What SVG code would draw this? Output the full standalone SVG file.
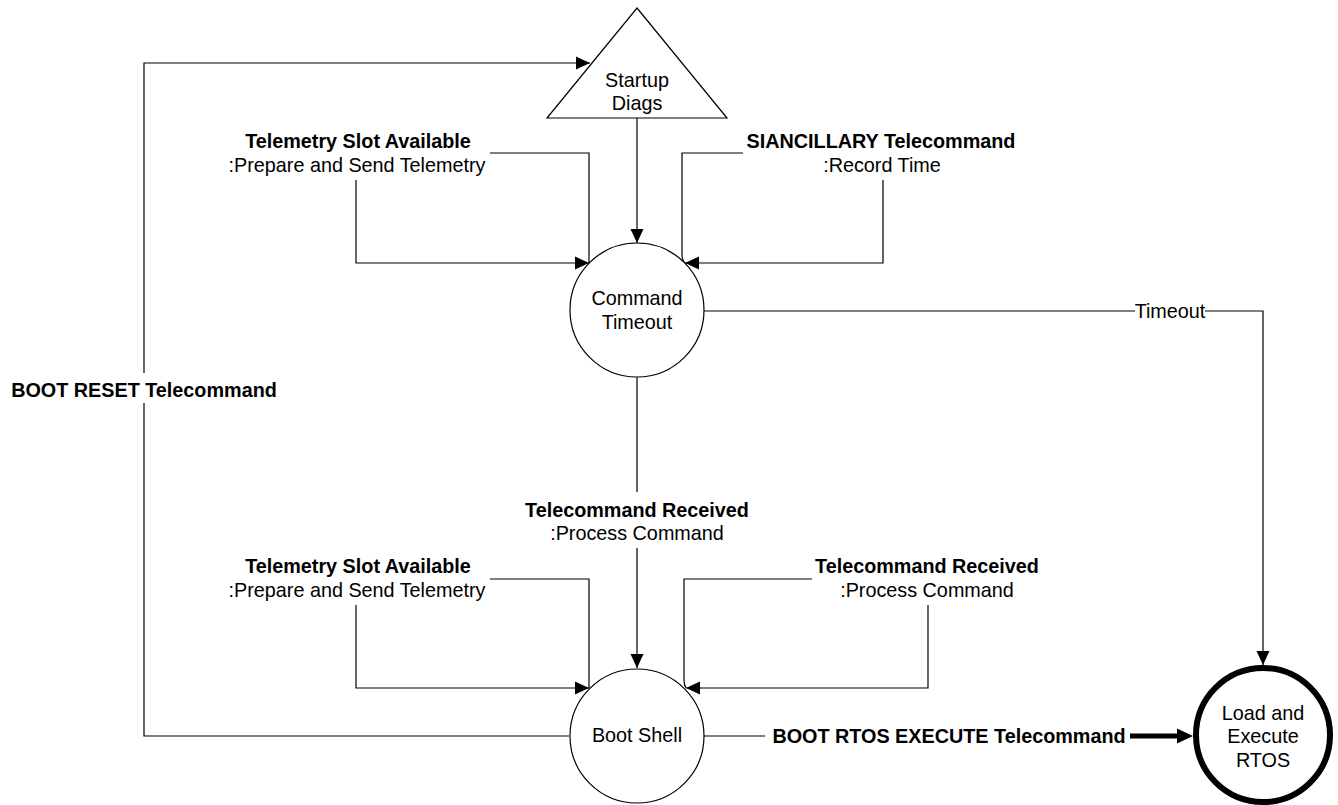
<svg xmlns="http://www.w3.org/2000/svg" width="1338" height="805" viewBox="0 0 1338 805">
<defs>
<marker id="arr" markerUnits="userSpaceOnUse" markerWidth="15" markerHeight="14" refX="14" refY="7" orient="auto">
<path d="M0,0.5 L14,7 L0,13.5 Z" fill="#000"/>
</marker>
<style>
.ln{fill:none;stroke:#000;stroke-width:1.2}
.nd{fill:#fff;stroke:#000;stroke-width:1.2}
text{font-family:"Liberation Sans",Arial,sans-serif;font-size:19.8px;fill:#000}
.b{font-weight:bold}
.c{text-anchor:middle}
</style>
</defs>
<rect width="1338" height="805" fill="#fff"/>
<g id="connectors">
<path class="ln" d="M569,736 H144 V403 M144,373 V63 H590" marker-end="url(#arr)"/>
<path class="ln" d="M637,118 V243" marker-end="url(#arr)"/>
<path class="ln" d="M490,153 H589 V263"/>
<path class="ln" d="M356,180 V263 H589" marker-end="url(#arr)"/>
<path class="ln" d="M743,153 H682 V255 Q682,260 685,263"/>
<path class="ln" d="M883,180 V263 H685" marker-end="url(#arr)"/>
<path class="ln" d="M704,311 H1135 M1205,311 H1263 V665" marker-end="url(#arr)"/>
<path class="ln" d="M637,377 V492 M637,548 V668" marker-end="url(#arr)"/>
<path class="ln" d="M490,579 H589 V688"/>
<path class="ln" d="M356,605 V688 H589" marker-end="url(#arr)"/>
<path class="ln" d="M812,579 H684 V680 Q684,685 686,688"/>
<path class="ln" d="M928,605 V688 H686" marker-end="url(#arr)"/>
<path class="ln" d="M704,736 H765"/>
<path fill="none" stroke="#000" stroke-width="5" d="M1130,736 H1181"/>
<path d="M1177,728.5 L1193,736 L1177,743.5 Z" fill="#000"/>
<text class="b" x="144" y="397" text-anchor="middle">BOOT RESET Telecommand</text>
<text class="b c" x="358" y="148">Telemetry Slot Available</text>
<text class="c" x="357" y="172">:Prepare and Send Telemetry</text>
<text class="b c" x="881" y="148">SIANCILLARY Telecommand</text>
<text class="c" x="882" y="172">:Record Time</text>
<text class="c" x="1170" y="318">Timeout</text>
<text class="b c" x="637" y="517">Telecommand Received</text>
<text class="c" x="637" y="540">:Process Command</text>
<text class="b c" x="358" y="573">Telemetry Slot Available</text>
<text class="c" x="357" y="597">:Prepare and Send Telemetry</text>
<text class="b c" x="927" y="573">Telecommand Received</text>
<text class="c" x="927" y="597">:Process Command</text>
<text class="b c" x="949" y="743">BOOT RTOS EXECUTE Telecommand</text>
</g>
<g id="startup">
<path class="nd" d="M637,8 L727,118 H547 Z"/>
<text class="c" x="637" y="87">Startup</text>
<text class="c" x="637" y="110">Diags</text>
</g>
<g id="command-timeout">
<circle class="nd" cx="637" cy="310" r="67"/>
<text class="c" x="637" y="305">Command</text>
<text class="c" x="637" y="329">Timeout</text>
</g>
<g id="boot-shell">
<circle class="nd" cx="637" cy="736" r="67"/>
<text class="c" x="637" y="742">Boot Shell</text>
</g>
<g id="load-rtos">
<circle cx="1263" cy="735" r="67" fill="#fff" stroke="#000" stroke-width="6"/>
<text class="c" x="1263" y="720">Load and</text>
<text class="c" x="1263" y="743">Execute</text>
<text class="c" x="1263" y="767">RTOS</text>
</g>
</svg>
